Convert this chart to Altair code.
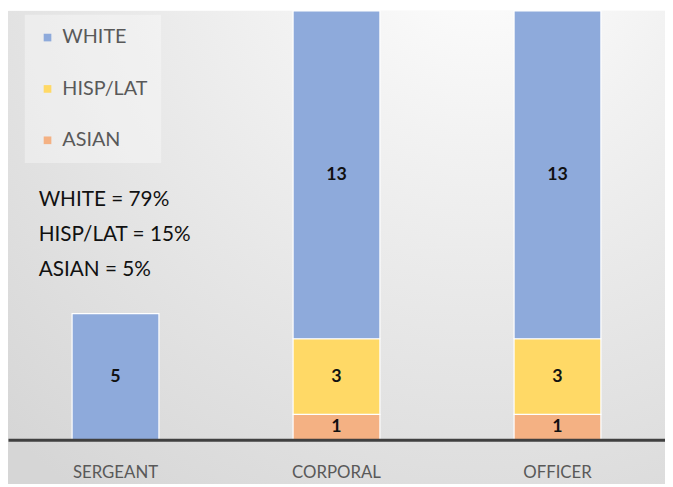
import altair as alt
import pandas as pd

ranks = ["SERGEANT", "CORPORAL", "OFFICER"]
groups = ["WHITE", "HISP/LAT", "ASIAN"]
white = [5, 13, 13]
hisp = [0, 3, 3]
asian = [0, 1, 1]
notes = ["WHITE = 79%", "HISP/LAT = 15%", "ASIAN = 5%"]
colors = ["#8eaadb", "#ffd966", "#f4b183"]

rows = []
for i, r in enumerate(ranks):
    for g, vals, order in (("ASIAN", asian, 0), ("HISP/LAT", hisp, 1), ("WHITE", white, 2)):
        if vals[i] > 0:
            rows.append({"rank": r, "group": g, "count": vals[i], "ord": order})
df = pd.DataFrame(rows)

FONT = "Lato, sans-serif"
W, H = 665, 434

xscale = alt.Scale(domain=ranks, paddingInner=0.607, paddingOuter=0.29)
yscale = alt.Scale(domain=[0, 17], nice=False)

bg = alt.Chart(pd.DataFrame({"a": [0]})).mark_rect(
    color=alt.Gradient(
        gradient="radial",
        x1=0.72, y1=0.02, r1=0.0,
        x2=0.72, y2=0.02, r2=1.05,
        stops=[
            alt.GradientStop(offset=0, color="#ffffff"),
            alt.GradientStop(offset=0.3, color="#f2f2f2"),
            alt.GradientStop(offset=1, color="#d6d6d6"),
        ],
    )
).encode(x=alt.value(0), x2=alt.value(W), y=alt.value(0), y2=alt.value(H + 45))

base = alt.Chart(df).transform_stack(
    stack="count", groupby=["rank"], sort=[alt.SortField("ord", order="ascending")],
    as_=["y0", "y1"]
).transform_calculate(mid="(datum.y0 + datum.y1) / 2")

xaxis = alt.Axis(title=None, ticks=False, labelFontSize=17, labelFont=FONT,
                 labelColor="#595959", labelPadding=25, domainColor="#404040",
                 domainWidth=3, labelAngle=0, zindex=1)

bars = base.mark_bar(stroke="white", strokeWidth=1.2).encode(
    x=alt.X("rank:N", scale=xscale, sort=ranks, axis=xaxis),
    y=alt.Y("y0:Q", scale=yscale, axis=None),
    y2="y1:Q",
    color=alt.Color("group:N",
                    scale=alt.Scale(domain=groups, range=colors),
                    legend=alt.Legend(title=None, orient="none", legendX=17, legendY=4,
                                      fillColor="rgba(255,255,255,0.35)", padding=13,
                                      symbolType="square", symbolSize=60,
                                      symbolStrokeWidth=0,
                                      labelFontSize=20, labelFont=FONT,
                                      labelColor="#595959", rowPadding=32,
                                      labelOffset=5)),
)

labels = base.mark_text(font=FONT, fontSize=18, fontWeight="bold", color="#111111",
                        baseline="middle").encode(
    x=alt.X("rank:N", scale=xscale, sort=ranks, axis=xaxis),
    y=alt.Y("mid:Q", scale=yscale, axis=None),
    text="count:Q",
)

note = alt.Chart(pd.DataFrame({"t": [notes]})).mark_text(
    font=FONT, fontSize=21, color="#111111", align="left", baseline="top",
    lineHeight=35
).encode(x=alt.value(31), y=alt.value(181), text="t")

chart = alt.layer(bg, bars, labels, note).properties(
    width=W, height=H,
    autosize=alt.AutoSizeParams(type="none"),
    padding={"left": 0, "top": 0, "right": 0, "bottom": 45},
).configure_view(stroke=None).configure(background="transparent")

chart.save("out.html", embed_options={"renderer": "svg", "actions": False})
